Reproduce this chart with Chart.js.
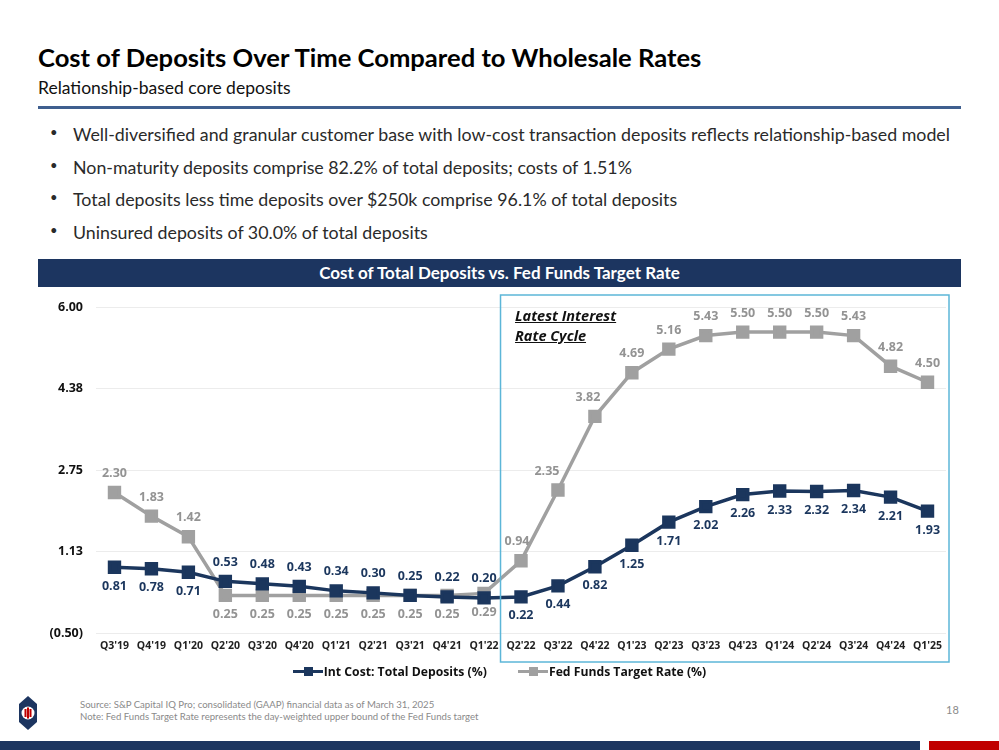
<!DOCTYPE html>
<html lang="en">
<head>
  <meta charset="UTF-8">
  <title>Cost of Deposits Over Time Compared to Wholesale Rates</title>
  <script src="https://cdn.jsdelivr.net/npm/chart.js"></script>
  <style>
    body { margin: 0; width: 999px; height: 750px; position: relative; background: #fff; font-family: Lato, "Open Sans", sans-serif; overflow: hidden; }
    .title { position: absolute; left: 38px; top: 42px; font-size: 25.6px; font-weight: 700; color: #000; }
    .subtitle { position: absolute; left: 38px; top: 77px; font-size: 17.5px; color: #111; }
    .rule { position: absolute; left: 38px; top: 106px; width: 923px; height: 3px; background: #3f5f8f; }
    ul.bullets { position: absolute; left: 46px; top: 123px; margin: 0; padding: 0; list-style: none; font-size: 17.8px; color: #2a2a2a; }
    ul.bullets li { height: 32.5px; padding-left: 27px; position: relative; }
    ul.bullets li:before { content: "\2022"; position: absolute; left: 4px; top: 1px; font-size: 13px; }
    .bar-head { position: absolute; left: 38px; top: 259px; width: 923px; height: 28px; background: #1c3560; color: #fff; font-weight: 700; font-size: 17px; text-align: center; line-height: 28px; }
    #chart-wrap { position: absolute; left: 30px; top: 292px; width: 930px; height: 372px; }
    .cycle { position: absolute; left: 515px; top: 306px; font: italic 700 14.5px "Open Sans", sans-serif; text-decoration: underline; line-height: 20px; color: #111; }
    .legend { position: absolute; left: 0; top: 663px; width: 999px; text-align: center; font: 700 12.2px "Open Sans", sans-serif; color: #111; }
    .legend span.item { display: inline-block; margin: 0 14px; }
    .legend .sw { display: inline-block; width: 30px; height: 3px; position: relative; vertical-align: middle; margin-right: 1px; top: -1px; }
    .legend .sw i { position: absolute; left: 11px; top: -3px; width: 9px; height: 9px; }
    .foot { position: absolute; left: 80px; top: 699px; font-size: 9.6px; color: #8a8a8a; line-height: 12px; }
    .page { position: absolute; left: 946px; top: 703px; font-size: 11px; color: #8a8a8a; }
    .bottom-bar { position: absolute; left: 0; top: 741px; width: 920px; height: 9px; background: #1c3560; }
    .bottom-red { position: absolute; left: 929px; top: 741px; width: 70px; height: 9px; background: #c00000; }
  </style>
</head>
<body>

<div class="title">Cost of Deposits Over Time Compared to Wholesale Rates</div>
<div class="subtitle">Relationship-based core deposits</div>
<div class="rule"></div>

<ul class="bullets">
  <li>Well-diversified and granular customer base with low-cost transaction deposits reflects relationship-based model</li>
  <li>Non-maturity deposits comprise 82.2% of total deposits; costs of 1.51%</li>
  <li>Total deposits less time deposits over $250k comprise 96.1% of total deposits</li>
  <li>Uninsured deposits of 30.0% of total deposits</li>
</ul>

<div class="bar-head">Cost of Total Deposits vs. Fed Funds Target Rate</div>

<div id="chart-wrap"><canvas id="lineChart"></canvas></div>
<div class="cycle">Latest Interest<br>Rate Cycle</div>

<div class="legend">
  <span class="item"><span class="sw" style="background:#1b365d"><i style="background:#1b365d"></i></span>Int Cost: Total Deposits (%)</span>
  <span class="item"><span class="sw" style="background:#a0a0a0"><i style="background:#a0a0a0"></i></span>Fed Funds Target Rate (%)</span>
</div>

<svg style="position:absolute;left:19px;top:696px" width="18" height="34" viewBox="0 0 18 34">
  <polygon points="9,0 18,8 18,26 9,34 0,26 0,8" fill="#1c3560"/>
  <circle cx="9" cy="17" r="6.5" fill="#fff"/>
  <rect x="5.5" y="13" width="2" height="8" fill="#c00000"/>
  <rect x="8" y="11.5" width="2" height="11" fill="#c00000"/>
  <rect x="10.5" y="13" width="2" height="8" fill="#c00000"/>
</svg>
<div class="foot">Source: S&amp;P Capital IQ Pro; consolidated (GAAP) financial data as of March 31, 2025<br>Note: Fed Funds Target Rate represents the day-weighted upper bound of the Fed Funds target</div>
<div class="page">18</div>
<div class="bottom-bar"></div>
<div class="bottom-red"></div>

<script>
  // quarters on the x axis
  const quarters = ["Q3'19","Q4'19","Q1'20","Q2'20","Q3'20","Q4'20","Q1'21","Q2'21","Q3'21","Q4'21","Q1'22",
                    "Q2'22","Q3'22","Q4'22","Q1'23","Q2'23","Q3'23","Q4'23","Q1'24","Q2'24","Q3'24","Q4'24","Q1'25"];
  // Int Cost: Total Deposits (%)
  const depositCost = [0.81,0.78,0.71,0.53,0.48,0.43,0.34,0.30,0.25,0.22,0.20,
                       0.22,0.44,0.82,1.25,1.71,2.02,2.26,2.33,2.32,2.34,2.21,1.93];
  // Fed Funds Target Rate (%)
  const fedFunds = [2.30,1.83,1.42,0.25,0.25,0.25,0.25,0.25,0.25,0.25,0.29,
                    0.94,2.35,3.82,4.69,5.16,5.43,5.50,5.50,5.50,5.43,4.82,4.50];
  // y axis ticks and their printed labels
  const yTickValues = [-0.5, 1.125, 2.75, 4.375, 6.0];
  const yTickLabels = ["(0.50)", "1.13", "2.75", "4.38", "6.00"];

  const navy = '#1b365d';
  const grey = '#a0a0a0';

  // which side each value label sits on (1 = above, -1 = below)
  const depSide = depositCost.map((v, i) => (i >= 3 && i <= 10) ? 1 : -1);
  const fedSide = fedFunds.map((v, i) => (i >= 3 && i <= 10) ? -1 : 1);
  // nudge the labels on the steep climb off the line
  const fedNudge = { 11: -4, 12: -11, 13: -7 };

  const valueLabels = {
    id: 'valueLabels',
    afterDatasetsDraw(chart) {
      const ctx = chart.ctx;
      const sides = [depSide, fedSide];
      const colors = [navy, '#939393'];
      ctx.save();
      ctx.font = '700 12.5px "Open Sans", sans-serif';
      ctx.textAlign = 'center';
      ctx.textBaseline = 'middle';
      chart.data.datasets.forEach((ds, di) => {
        chart.getDatasetMeta(di).data.forEach((pt, i) => {
          const dx = di === 1 ? (fedNudge[i] || 0) : 0;
          ctx.fillStyle = colors[di];
          ctx.fillText(ds.data[i].toFixed(2), pt.x + dx, pt.y - sides[di][i] * 19);
        });
      });
      ctx.restore();
    }
  };

  // thin frame around the latest rate cycle
  const cycleBox = {
    id: 'cycleBox',
    afterDraw(chart) {
      const x = chart.scales.x, a = chart.chartArea, ctx = chart.ctx;
      const left = (x.getPixelForValue(10) + x.getPixelForValue(11)) / 2 - 2;
      ctx.save();
      ctx.strokeStyle = '#5cb6d8';
      ctx.lineWidth = 1.5;
      ctx.strokeRect(left, 3, a.right + 3 - left, 367);
      ctx.restore();
    }
  };

  const ctx = document.getElementById('lineChart').getContext('2d');
  new Chart(ctx, {
    type: 'line',
    data: {
      labels: quarters,
      datasets: [
        {
          label: 'Int Cost: Total Deposits (%)',
          data: depositCost,
          borderColor: navy,
          backgroundColor: navy,
          borderWidth: 3.5,
          pointStyle: 'rect',
          pointRadius: 7,
          pointHoverRadius: 7,
          tension: 0
        },
        {
          label: 'Fed Funds Target Rate (%)',
          data: fedFunds,
          borderColor: grey,
          backgroundColor: grey,
          borderWidth: 3.5,
          pointStyle: 'rect',
          pointRadius: 7,
          pointHoverRadius: 7,
          tension: 0
        }
      ]
    },
    options: {
      responsive: true,
      maintainAspectRatio: false,
      animation: false,
      layout: { padding: { top: 15, right: 14, bottom: 7, left: 0 } },
      plugins: { legend: { display: false }, tooltip: { enabled: false } },
      scales: {
        x: {
          offset: true,
          grid: { display: false, offset: true, drawTicks: false },
          border: { display: false },
          ticks: { color: '#222', font: { family: '"Open Sans", sans-serif', size: 10.5, weight: '700' }, maxRotation: 0, autoSkip: false, padding: 7 },
          afterFit(s) { s.height = 24; }
        },
        y: {
          min: -0.5,
          max: 6,
          grid: { color: '#ececec', drawTicks: false },
          border: { display: false },
          afterBuildTicks(s) { s.ticks = yTickValues.map(v => ({ value: v })); },
          ticks: {
            color: '#111',
            padding: 13,
            font: { family: '"Open Sans", sans-serif', size: 12.5, weight: '700' },
            callback: (v) => yTickLabels[yTickValues.indexOf(v)]
          },
          afterFit(s) { s.width = 66; s.paddingTop = 0; s.paddingBottom = 0; }
        }
      }
    },
    plugins: [valueLabels, cycleBox]
  });
</script>
</body>
</html>
